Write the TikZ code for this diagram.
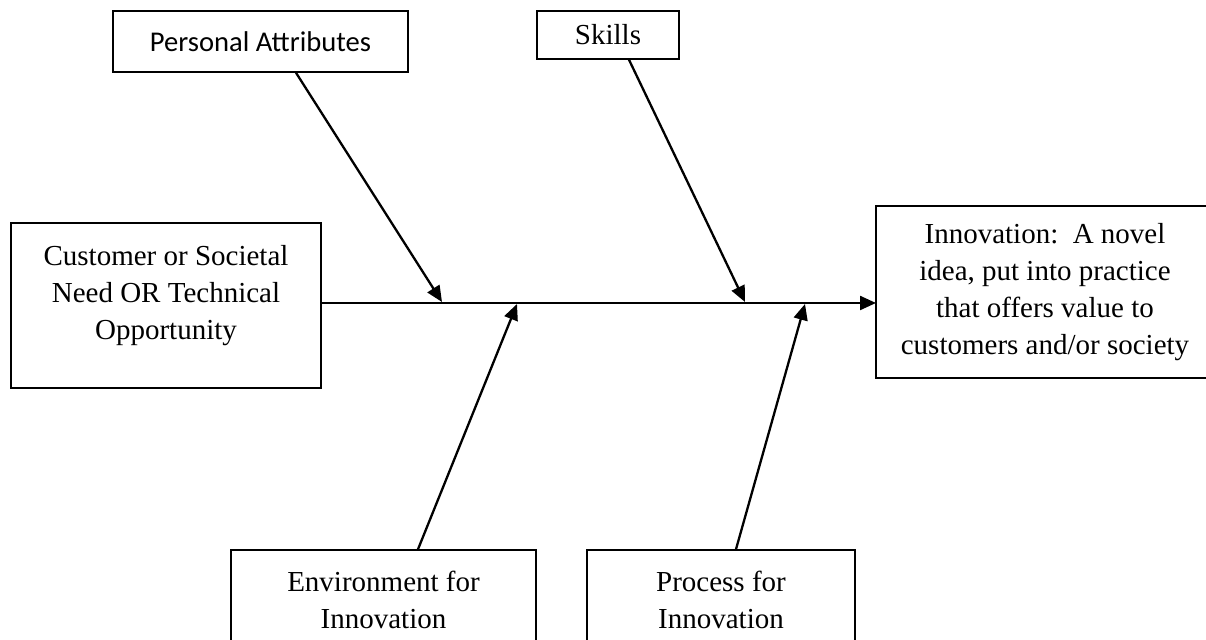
\documentclass[tikz,border=0pt]{standalone}
\usepackage{fontspec}
\setmainfont{Liberation Serif}
\newfontfamily\calibri{Carlito}
\usetikzlibrary{arrows.meta}
\begin{document}
\begin{tikzpicture}[x=.5pt,y=-.5pt,
  box/.style={draw,line width=.75pt,inner sep=0pt,align=center,font=\fontsize{14.5}{18.5}\selectfont},
  rib/.style={line width=1.15pt,-{Triangle[length=8pt,width=7pt]}}]
\useasboundingbox (0,0) rectangle (1206,640);
\node[box,minimum width=147.5pt,minimum height=30.5pt,font=\calibri\fontsize{14.3}{18}\selectfont] (pa) at (260.5,41.5) {Personal Attributes};
\node[box,minimum width=71pt,minimum height=24pt] (sk) at (608,35) {\raisebox{-1.5pt}{Skills}};
\node[box,minimum width=155pt,minimum height=82.5pt,text depth=13pt] (need) at (166,305.5) {Customer or Societal\\Need OR Technical\\Opportunity};
\node[box,minimum width=169pt,minimum height=86pt] (inn) at (1045,292) {Innovation:\ \ A novel\\idea, put into practice\\that offers value to\\customers and/or society};
\node[box,minimum width=152.5pt,minimum height=50pt] (env) at (383.5,600) {Environment for\\Innovation};
\node[box,minimum width=134pt,minimum height=50pt] (proc) at (721,600) {Process for\\Innovation};
% spine and ribs
\coordinate (head) at (876,303);
\coordinate (t1) at (442,302);
\coordinate (t2) at (745,302);
\coordinate (b1) at (517,304);
\coordinate (b2) at (805,304);
\draw[rib] (need.east |- head) -- (head);
\draw[rib] ([xshift=17.75pt]pa.south) -- (t1);
\draw[rib] ([xshift=10.5pt]sk.south) -- (t2);
\draw[rib] ([xshift=17.25pt]env.north) -- (b1);
\draw[rib] ([xshift=7.5pt]proc.north) -- (b2);
\end{tikzpicture}
\end{document}
